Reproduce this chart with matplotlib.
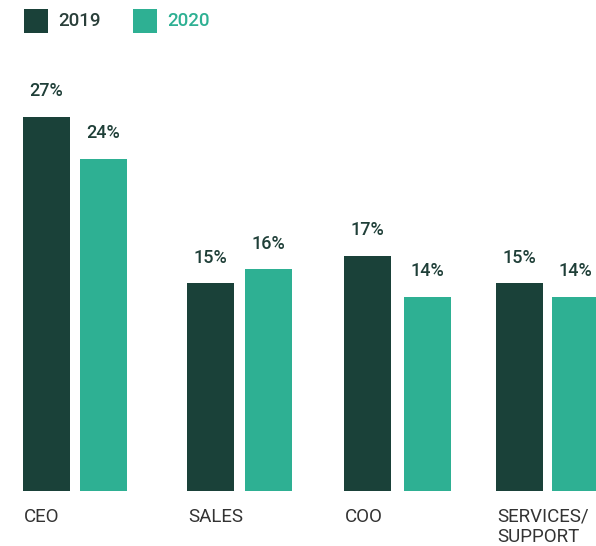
import matplotlib
matplotlib.use("Agg")
import matplotlib.pyplot as plt
from matplotlib.patches import Rectangle

# Share of respondents by role, 2019 vs 2020
categories = ["CEO", "SALES", "COO", "SERVICES/\nSUPPORT"]
values_2019 = [27, 15, 17, 15]
values_2020 = [24, 16, 14, 14]
series_names = ["2019", "2020"]

DARK = "#1a4139"
TEAL = "#2eb093"
LABEL_GREEN = "#1f3f38"
TEXT_GRAY = "#333333"
FONT = ["Roboto", "DejaVu Sans"]

W, H = 596, 546
fig = plt.figure(figsize=(W / 100, H / 100), dpi=100)

# axes in pixel units: x runs 0..W, baseline 55 px above the bottom edge
base_px = 491
ax = fig.add_axes([0, (H - base_px) / H, 1, base_px / H])
ax.set_xlim(0, W)
px_per_unit = 374 / 27
ax.set_ylim(0, base_px / px_per_unit)
ax.axis("off")

# layout: left edge of each group, bar width and spacing of the pair
group_left = [23, 187, 344, 496]
pair_step = [57, 58, 60, 56]
bar_w = 47

x1 = [g + bar_w / 2 for g in group_left]
x2 = [g + s + bar_w / 2 for g, s in zip(group_left, pair_step)]
b1 = ax.bar(x1, values_2019, width=bar_w, color=DARK, linewidth=0)
b2 = ax.bar(x2, values_2020, width=bar_w, color=TEAL, linewidth=0)

for bars, vals in ((b1, values_2019), (b2, values_2020)):
    for rect, v in zip(bars, vals):
        ax.annotate(f"{v}%", (rect.get_x() + rect.get_width() / 2, v),
                    xytext=(0, 12), textcoords="offset points",
                    ha="center", va="bottom", fontsize=13,
                    fontweight="medium", color=LABEL_GREEN, family=FONT)

# category labels, left-aligned under the first bar of each group
for g, cat in zip(group_left, categories):
    ax.annotate(cat, (g + 1, 0), xytext=(0, -12), textcoords="offset points",
                ha="left", va="top", fontsize=13.5, color=TEXT_GRAY,
                family=FONT, linespacing=1.15, annotation_clip=False)

# legend drawn in figure pixels along the top
for (x0, name, col, tcol) in ((24, series_names[0], DARK, "#2a3f3a"),
                              (133, series_names[1], TEAL, TEAL)):
    fig.patches.append(Rectangle((x0 / W, 1 - 33 / H), 24 / W, 24 / H,
                                 transform=fig.transFigure, color=col, lw=0))
    fig.text((x0 + 34) / W, 1 - 21 / H, name, ha="left", va="center",
             fontsize=13.5, fontweight="medium", color=tcol, family=FONT)

fig.savefig("out.png", dpi=100)
